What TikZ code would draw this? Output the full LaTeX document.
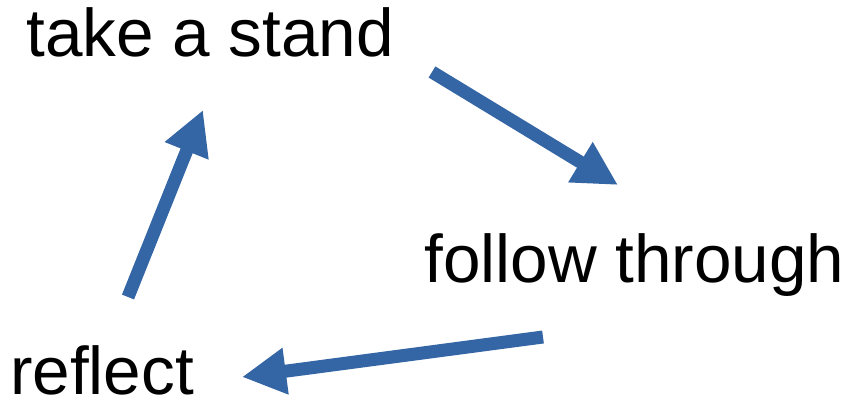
\documentclass[tikz,border=0pt]{standalone}
\usepackage{fontspec}
\setmainfont{Liberation Sans}
\usetikzlibrary{arrows.meta}
\definecolor{arrowblue}{HTML}{3465A4}
\begin{document}
\begin{tikzpicture}[x=0.75pt,y=-0.75pt,
  lbl/.style={anchor=base west,inner sep=0pt,font=\fontsize{50.6}{60}\selectfont},
  bigarrow/.style={draw=arrowblue,line width=9.75pt,
    -{Triangle[length=33pt,width=33pt,fill=arrowblue]}}]
\useasboundingbox (0,0) rectangle (843,402);
\node[lbl] (stand) at (26,57) {take a stand};
\node[lbl] (follow) at (424,283) {follow through};
\node[lbl] (reflect) at (10,395) {reflect};
\coordinate (a1s) at (432,72);
\coordinate (a1e) at (618,185);
\coordinate (a2s) at (543,337);
\coordinate (a2e) at (242,377);
\coordinate (a3s) at (128,297);
\coordinate (a3e) at (203,110);
\draw[bigarrow] (a1s) -- (a1e);
\draw[bigarrow] (a2s) -- (a2e);
\draw[bigarrow] (a3s) -- (a3e);
\end{tikzpicture}
\end{document}
